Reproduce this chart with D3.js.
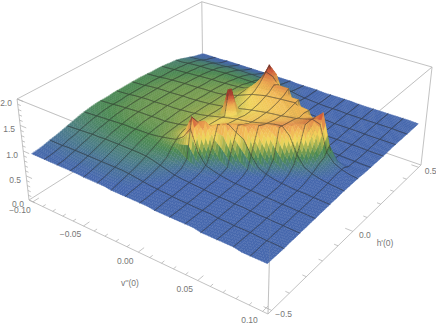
<!DOCTYPE html>
<html>
<head>
<meta charset="utf-8">
<script src="https://cdn.jsdelivr.net/npm/d3@7"></script>
<style>
  html, body { margin: 0; padding: 0; background: #fff; }
  text { font-family: "Liberation Sans", sans-serif; font-size: 8.5px; fill: #777; }
</style>
</head>
<body>
<script>
const vTicks = [-0.1, -0.05, 0, 0.05, 0.1];
const vMinor = [-0.09, -0.08, -0.07, -0.06, -0.04, -0.03, -0.02, -0.01, 0.01, 0.02, 0.03, 0.04, 0.06, 0.07, 0.08, 0.09];
const hTicks = [-0.5, 0, 0.5];
const hMinor = [-0.4, -0.3, -0.2, -0.1, 0.1, 0.2, 0.3, 0.4];
const zTicks = [0, 0.5, 1, 1.5, 2];
const zMinor = [0.1, 0.2, 0.3, 0.4, 0.6, 0.7, 0.8, 0.9, 1.1, 1.2, 1.3, 1.4, 1.6, 1.7, 1.8, 1.9];

// surface heights: rows go along h'(0), columns along v''(0)
const heights = [
  [.93,.93,.93,.93,.93,.93,.93,.93,.92,.92,.92,.92,.90,.90,.90,.90,.90,.90,.88,.88,.88,.88,.88,.88,.85,.85,.85,.85,.85,.82,.82,.82,.82],
  [.94,.94,.94,.94,.94,.94,.94,.94,.94,.94,.94,.94,.93,.93,.92,.91,.90,.90,.89,.88,.88,.88,.88,.88,.85,.85,.85,.85,.85,.83,.82,.82,.82],
  [.96,.96,.96,.97,.97,.97,.97,.97,.97,.97,.97,.97,.96,.95,.93,.92,.91,.90,.90,.89,.88,.88,.88,.88,.86,.85,.85,.85,.85,.83,.83,.82,.82],
  [.99,.99,.99,1,1,1,1,1,1,1,1,1,.99,.97,.95,.93,.92,.91,.90,.89,.89,.88,.88,.88,.86,.86,.85,.85,.85,.84,.83,.83,.82],
  [1.01,1.02,1.03,1.03,1.04,1.04,1.04,1.04,1.04,1.04,1.04,1.03,1.02,1.0,.97,.95,.93,.92,.91,.9,.89,.89,.88,.88,.87,.86,.86,.85,.85,.84,.84,.83,.83],
  [1.04,1.05,1.05,1.06,1.07,1.07,1.08,1.08,1.08,1.08,1.08,1.07,1.06,1.04,1.0,.97,.94,.93,.92,.91,.90,.89,.89,.88,.87,.87,.86,.86,.85,.85,.84,.84,.83],
  [1.07,1.08,1.09,1.1,1.11,1.11,1.12,1.12,1.12,1.12,1.12,1.12,1.11,1.08,1.04,1.0,.96,.94,.93,.92,.91,.90,.89,.89,.88,.88,.87,.86,.86,.85,.85,.84,.84],
  [1.1,1.11,1.12,1.13,1.14,1.14,1.16,1.16,1.16,1.16,1.17,1.17,1.16,1.14,1.1,1.05,.99,.96,.94,.93,.92,.91,.90,.89,.89,.88,.87,.87,.86,.86,.85,.85,.84],
  [1.13,1.14,1.15,1.16,1.16,1.17,1.18,1.19,1.19,1.19,1.2,1.2,1.21,1.23,1.24,1.2,1.1,1.02,.97,.94,.92,.91,.90,.90,.89,.88,.88,.87,.87,.86,.86,.85,.85],
  [1.15,1.16,1.17,1.18,1.19,1.2,1.21,1.21,1.21,1.22,1.22,1.24,1.27,1.3,1.34,1.5,1.82,1.3,1.05,1.0,.96,.93,.91,.90,.89,.89,.88,.88,.87,.87,.86,.86,.85],
  [1.17,1.18,1.19,1.2,1.21,1.22,1.23,1.23,1.24,1.24,1.24,1.26,1.28,1.33,1.4,1.5,1.66,1.72,1.3,1.08,1.0,.96,.93,.91,.90,.89,.89,.88,.88,.87,.87,.86,.86],
  [1.18,1.19,1.2,1.21,1.22,1.23,1.24,1.24,1.25,1.25,1.25,1.27,1.29,1.33,1.4,1.44,1.48,1.56,1.64,1.7,1.35,1.08,1.0,.95,.92,.9,.89,.89,.88,.88,.87,.87,.86],
  [1.18,1.19,1.2,1.22,1.23,1.24,1.25,1.25,1.25,1.26,1.26,1.28,1.3,1.33,1.38,1.42,1.46,1.5,1.56,1.62,1.66,1.69,1.35,1.08,1.0,.95,.92,.9,.89,.89,.88,.87,.87],
  [1.18,1.19,1.2,1.22,1.24,1.24,1.25,1.26,1.26,1.27,1.27,1.29,1.3,1.33,1.37,1.42,1.45,1.48,1.52,1.56,1.6,1.65,1.68,1.48,1.15,1.03,.97,.93,.91,.9,.89,.88,.87],
  [1.19,1.2,1.21,1.23,1.24,1.25,1.25,1.26,1.27,1.27,1.28,1.29,1.31,1.33,1.36,1.4,1.44,1.47,1.5,1.52,1.55,1.59,1.63,1.66,1.68,1.35,1.08,1.0,.95,.92,.9,.89,.88],
  [1.19,1.2,1.21,1.23,1.24,1.25,1.25,1.26,1.27,1.27,1.28,1.3,1.31,1.33,1.36,1.39,1.42,1.46,1.49,1.51,1.53,1.56,1.6,1.64,1.66,1.68,1.35,1.08,1.0,.95,.92,.9,.88],
  [1.19,1.2,1.21,1.23,1.24,1.25,1.25,1.26,1.27,1.27,1.28,1.29,1.31,1.33,1.35,1.37,2.0,1.42,1.46,1.5,1.52,1.54,1.57,1.6,1.64,1.66,1.69,1.3,1.06,.98,.94,.9,.88],
  [1.19,1.2,1.21,1.23,1.24,1.25,1.25,1.26,1.27,1.27,1.28,1.29,1.31,1.33,1.35,1.36,1.39,1.43,1.46,1.49,1.52,1.54,1.56,1.59,1.62,1.66,1.7,1.5,1.1,1.0,.94,.9,.88],
  [1.19,1.2,1.21,1.23,1.24,1.25,1.25,1.26,1.27,1.27,1.28,1.29,1.3,1.32,1.35,1.38,1.42,1.45,1.48,1.5,1.52,1.54,1.55,1.57,1.58,1.62,1.68,1.82,1.25,1.02,.94,.9,.88],
  [1.19,1.2,1.21,1.22,1.24,1.25,1.25,1.26,1.26,1.27,1.27,1.28,1.3,1.32,1.36,1.4,1.44,1.47,1.5,1.52,1.54,1.55,1.57,1.58,1.6,1.58,1.25,.97,.9,.89,.88,.88,.87],
  [1.18,1.19,1.2,1.22,1.23,1.24,1.25,1.25,1.26,1.27,1.27,1.28,1.3,1.33,1.37,1.42,1.47,1.5,1.54,1.55,1.57,1.58,1.6,1.6,1.58,1.25,.96,.91,.89,.88,.88,.87,.87],
  [1.17,1.18,1.19,1.21,1.22,1.23,1.24,1.25,1.25,1.26,1.27,1.27,1.29,1.33,1.38,1.45,1.52,1.56,1.58,1.6,1.61,1.62,1.62,1.25,.96,.91,.89,.88,.88,.88,.87,.87,.87],
  [1.17,1.18,1.19,1.2,1.21,1.22,1.23,1.24,1.24,1.25,1.26,1.27,1.28,1.31,1.38,1.5,1.6,1.63,1.66,1.68,1.68,1.33,.98,.92,.89,.88,.88,.88,.88,.87,.87,.87,.87],
  [1.16,1.17,1.18,1.19,1.2,1.21,1.22,1.23,1.24,1.24,1.25,1.26,1.27,1.29,1.36,1.52,1.72,1.7,1.6,1.33,.98,.92,.9,.89,.88,.88,.88,.88,.88,.88,.87,.87,.87],
  [1.15,1.15,1.17,1.18,1.19,1.2,1.21,1.22,1.22,1.23,1.24,1.24,1.26,1.27,1.31,1.5,1.84,1.7,1.33,1.02,.93,.91,.9,.89,.89,.88,.88,.88,.88,.88,.88,.87,.87],
  [1.13,1.14,1.15,1.17,1.17,1.18,1.19,1.2,1.21,1.21,1.21,1.21,1.22,1.22,1.23,1.23,1.4,1.19,1.02,.95,.92,.91,.9,.9,.89,.89,.89,.88,.88,.88,.88,.88,.88],
  [1.12,1.12,1.14,1.15,1.16,1.16,1.17,1.18,1.19,1.19,1.19,1.19,1.19,1.19,1.19,1.17,1.14,1.05,.97,.94,.92,.91,.9,.9,.89,.89,.89,.89,.88,.88,.88,.88,.88],
  [1.09,1.1,1.11,1.13,1.13,1.14,1.15,1.15,1.16,1.16,1.16,1.16,1.16,1.15,1.14,1.11,1.07,1.01,.96,.94,.92,.91,.9,.9,.89,.89,.89,.89,.89,.88,.88,.88,.88],
  [1.05,1.06,1.08,1.09,1.1,1.1,1.11,1.12,1.12,1.12,1.12,1.12,1.11,1.1,1.09,1.06,1.03,.98,.95,.93,.92,.91,.9,.9,.89,.89,.89,.89,.89,.89,.88,.88,.88],
  [1.01,1.02,1.03,1.04,1.05,1.05,1.06,1.07,1.07,1.07,1.07,1.06,1.06,1.05,1.03,1.01,.98,.95,.93,.92,.91,.9,.9,.9,.89,.89,.89,.89,.89,.89,.89,.88,.88],
  [.97,.97,.98,.99,.99,1,1.01,1.01,1.01,1.01,1.01,1.01,1,.99,.98,.96,.95,.93,.92,.91,.9,.9,.9,.9,.89,.89,.89,.89,.89,.89,.89,.89,.88],
  [.94,.94,.95,.95,.95,.95,.96,.96,.96,.96,.96,.96,.95,.95,.95,.94,.93,.93,.92,.91,.9,.9,.9,.9,.89,.89,.89,.89,.89,.89,.89,.89,.88],
  [.91,.91,.91,.91,.92,.92,.92,.92,.92,.92,.92,.92,.92,.92,.92,.91,.91,.91,.91,.9,.9,.9,.9,.9,.89,.89,.89,.89,.89,.89,.89,.89,.88]
];

const colorStops = [0.93, 1.06, 1.2, 1.33, 1.46, 1.62, 1.76, 1.9];
const colorValues = ['#4668ad', '#4b7d84', '#4d8a52', '#9aac4e', '#f2d75c', '#f1b156', '#cf5a3c', '#742024'];

const width = 436, height = 327;
const last = heights.length - 1;
const zTop = 1.84;

const xScale = d3.scaleLinear().domain([-0.104, 0.104]).range([0, 1]);
const yScale = d3.scaleLinear().domain([-0.52, 0.52]).range([0, 1]);
const zScale = d3.scaleLinear().domain([0, 2]).range([0, 1]);
const colIndex = d3.scaleLinear().domain([0, last]).range([-0.1, 0.1]);
const rowIndex = d3.scaleLinear().domain([0, last]).range([-0.5, 0.5]);
const color = d3.scaleLinear().domain(colorStops).range(colorValues).clamp(true);
const lineMix = d3.interpolateRgb;

const meshCols = d3.range(2, last, 2);
const meshRows = d3.range(1, 11).map(k => k * last / 11);

// camera fitted to the box: floor corners and the pull of a unit of height
const floor = [[29, 200], [268, 314], [421, 165], [203, 90]];
const lift = [-12.9, -106.6, -0.0567];
const cam = (function () {
  const [[x0, y0], [x1, y1], [x2, y2], [x3, y3]] = floor;
  const dx1 = x1 - x2, dx2 = x3 - x2, sx = x0 - x1 + x2 - x3;
  const dy1 = y1 - y2, dy2 = y3 - y2, sy = y0 - y1 + y2 - y3;
  const den = dx1 * dy2 - dx2 * dy1;
  const g = (sx * dy2 - dx2 * sy) / den, h = (dx1 * sy - sx * dy1) / den;
  return { a: x1 - x0 + g * x1, b: x3 - x0 + h * x3, c: x0, d: y1 - y0 + g * y1, e: y3 - y0 + h * y3, f: y0, g, h };
})();

function project(u, v, w) {
  const W = cam.g * u + cam.h * v + 1 + lift[2] * w;
  return [
    (cam.a * u + cam.b * v + cam.c + lift[0] * w) / W,
    (cam.d * u + cam.e * v + cam.f + lift[1] * w) / W,
    W
  ];
}
const place = (vv, hh, zz) => project(xScale(vv), yScale(hh), zScale(zz));

function zAt(fi, fj) {
  const i = Math.min(Math.floor(fi), last - 1), j = Math.min(Math.floor(fj), last - 1);
  const s = fi - i, t = fj - j;
  return (heights[j][i] * (1 - s) + heights[j][i + 1] * s) * (1 - t) +
    (heights[j + 1][i] * (1 - s) + heights[j + 1][i + 1] * s) * t;
}
const surf = (fi, fj) => place(colIndex(fi), rowIndex(fj), zAt(fi, fj));

const svg = d3.select('body').append('svg').attr('width', width).attr('height', height);
const line = d3.line();

function boxEdge(a, b, opacity) {
  svg.append('path')
    .attr('d', line([place(...a), place(...b)].map(p => p.slice(0, 2))))
    .attr('fill', 'none').attr('stroke', '#bbb').attr('stroke-width', 0.9).attr('stroke-opacity', opacity);
}
const V = xScale.domain(), H = yScale.domain();
const backEdges = [
  [[V[0], H[0], 0], [V[0], H[1], 0]], [[V[0], H[1], 0], [V[1], H[1], 0]],
  [[V[0], H[1], 0], [V[0], H[1], 2]], [[V[0], H[0], 2], [V[0], H[1], 2]], [[V[0], H[1], 2], [V[1], H[1], 2]],
  [[V[0], H[0], 0], [V[0], H[0], 2]], [[V[1], H[1], 0], [V[1], H[1], 2]]
];
const frontEdges = [
  [[V[0], H[0], 2], [V[1], H[0], 2]], [[V[1], H[0], 2], [V[1], H[1], 2]], [[V[1], H[0], 0], [V[1], H[0], 2]],
  [[V[0], H[0], 0], [V[1], H[0], 0]], [[V[1], H[0], 0], [V[1], H[1], 0]]
];
backEdges.concat(frontEdges).forEach(e => boxEdge(e[0], e[1], 1));

// patches and mesh pieces, sorted far to near
const items = [];
for (let j = 0; j < last; j++) {
  for (let i = 0; i < last; i++) {
    const di = (heights[j][i + 1] - heights[j][i] + heights[j + 1][i + 1] - heights[j + 1][i]) / 2;
    const dj = (heights[j + 1][i] - heights[j][i] + heights[j + 1][i + 1] - heights[j][i + 1]) / 2;
    const nx = -6.7 * di, ny = -6.7 * dj, len = Math.hypot(nx, ny, 1);
    const dot = (0.45 * nx - 0.45 * ny + 0.77) / len;
    const shade = Math.max(0, 0.77 - dot) * 0.7;
    // the clipped spike needs small patches or its stem comes out too wide
    const tall = Math.max(heights[j][i], heights[j][i + 1], heights[j + 1][i], heights[j + 1][i + 1]) > zTop;
    const sub = tall ? 9 : 3, step = 1 / sub;
    for (let sj = 0; sj < sub; sj++) {
      for (let si = 0; si < sub; si++) {
        const fi = i + si * step, fj = j + sj * step;
        const zc = zAt(fi + step / 2, fj + step / 2);
        if (zc > zTop) continue;
        const ring = [[fi, fj], [fi + step, fj], [fi + step, fj + step], [fi, fj + step]].map(p => surf(p[0], p[1]));
        items.push({ pts: ring, depth: d3.mean(ring, p => p[2]), fill: d3.rgb(color(zc)).darker(shade).formatHex() });
      }
    }
  }
}
function meshPiece(a, b) {
  const zm = (zAt(a[0], a[1]) + zAt(b[0], b[1])) / 2;
  if (zm > zTop) return;
  const seg = [surf(a[0], a[1]), surf(b[0], b[1])];
  items.push({ pts: seg, depth: d3.mean(seg, p => p[2]) - 0.0045, ink: d3.rgb(lineMix(color(zm), '#2c2c2c')(0.62)).formatHex() });
}
const meshStep = 1 / 6;
d3.range(0, last, meshStep).forEach(t => {
  meshCols.forEach(c => meshPiece([c, t], [c, t + meshStep]));
  meshRows.forEach(r => meshPiece([t, r], [t + meshStep, r]));
});
items.sort((a, b) => d3.descending(a.depth, b.depth));

svg.append('g').selectAll('path')
  .data(items)
  .join('path')
  .attr('d', d => line(d.pts.map(p => [+p[0].toFixed(2), +p[1].toFixed(2)])) + (d.fill ? 'Z' : ''))
  .attr('fill', d => d.fill || 'none')
  .attr('stroke', d => d.fill || d.ink)
  .attr('stroke-linecap', 'round')
  .attr('stroke-width', d => d.fill ? 0.4 : 0.7);

// front edges show faintly through the surface
frontEdges.slice(0, 3).forEach(e => boxEdge(e[0], e[1], 0.14));

function tick(from, to) {
  svg.append('path')
    .attr('d', line([from.slice(0, 2), to.slice(0, 2)]))
    .attr('stroke', '#aaa').attr('stroke-width', 0.7).attr('fill', 'none');
}
function label(p, dx, dy, txt) {
  svg.append('text').attr('x', p[0] + dx).attr('y', p[1] + dy)
    .attr('text-anchor', 'middle').attr('dominant-baseline', 'central').text(txt);
}
const fmtV = d => d3.format('.2f')(d).replace('-', '\u2212');
const fmt1 = d => d3.format('.1f')(d).replace('-', '\u2212');

vMinor.forEach(d => tick(place(d, H[0], 0), place(d, H[0] + 0.015, 0)));
vTicks.forEach(d => {
  const p = place(d, H[0], 0);
  tick(p, place(d, H[0] + 0.03, 0));
  label(p, -13, 8.5, fmtV(d));
});
hMinor.forEach(d => tick(place(V[1], d, 0), place(V[1] - 0.003, d, 0)));
hTicks.forEach(d => {
  const p = place(V[1], d, 0);
  tick(p, place(V[1] - 0.006, d, 0));
  label(p, 12, 4, fmt1(d));
});
zMinor.forEach(d => tick(place(V[0], H[0], d), place(V[0] + 0.003, H[0], d)));
zTicks.forEach(d => {
  const p = place(V[0], H[0], d);
  tick(p, place(V[0] + 0.006, H[0], d));
  label(p, -11, 4, fmt1(d));
});

svg.append('text').attr('x', 130).attr('y', 283).attr('text-anchor', 'middle').attr('dominant-baseline', 'central').text("v''(0)");
svg.append('text').attr('x', 385).attr('y', 243).attr('text-anchor', 'middle').attr('dominant-baseline', 'central').text("h'(0)");
</script>
</body>
</html>
